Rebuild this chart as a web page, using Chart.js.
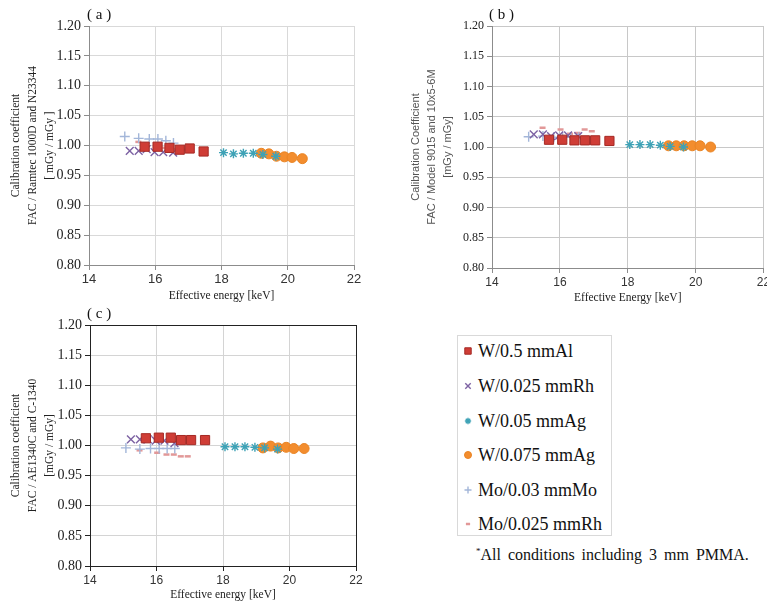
<!DOCTYPE html>
<html>
<head>
<meta charset="utf-8">
<script src="https://cdn.jsdelivr.net/npm/chart.js@4.4.0/dist/chart.umd.min.js"></script>
<style>
  body { margin: 0; background: #fff; }
  #page { position: relative; width: 767px; height: 605px; overflow: hidden; font-family: 'Liberation Serif', serif; }
  canvas { position: absolute; }
  .tag { position: absolute; font-size: 15px; color: #111; }
  #legendBox { position: absolute; left: 457px; top: 335px; width: 155px; height: 201px; border: 1px solid #d9d9d9; box-sizing: border-box; }
  .row { position: absolute; left: 0; height: 22px; line-height: 22px; font-size: 18px; color: #111; white-space: nowrap; }
  .row canvas { position: absolute; left: 3px; top: 4px; }
  .row span { position: absolute; left: 20px; }
  #note { position: absolute; left: 476px; top: 546px; font-size: 16px; word-spacing: 3px; color: #111; white-space: nowrap; }
  #note sup { font-size: 9px; }
</style>
</head>
<body>
<div id="page">
  <canvas id="chartA" width="378" height="305" style="left:0;top:0"></canvas>
  <canvas id="chartB" width="391" height="305" style="left:380px;top:0"></canvas>
  <canvas id="chartC" width="378" height="305" style="left:0;top:300px"></canvas>
  <div class="tag" style="left:87px;top:6px">( a )</div>
  <div class="tag" style="left:489px;top:6px">( b )</div>
  <div class="tag" style="left:87px;top:305px">( c )</div>
  <div id="legendBox"></div>
  <div id="note"><sup>*</sup>All conditions including 3 mm PMMA.</div>
</div>
<script>
// effective energies [keV] for each beam quality
const energyAl    = [15.68, 16.07, 16.43, 16.74, 17.04, 17.46];
const energyRh    = [15.23, 15.50, 15.74, 15.98, 16.24, 16.54];
const energyAg05  = [18.06, 18.36, 18.66, 18.96, 19.25, 19.64];
const energyAg075 = [19.20, 19.43, 19.66, 19.90, 20.13, 20.44];
const energyMo    = [15.08, 15.50, 15.82, 16.08, 16.32, 16.55];
const energyMoRh  = [15.49, 16.02, 16.30, 16.52, 16.73, 16.94];

// (a) FAC / Ramtec 1000D and N23344
const aAl    = [0.998, 0.998, 0.996, 0.993, 0.995, 0.990];
const aRh    = [0.991, 0.991, 0.994, 0.989, 0.989, 0.988];
const aAg05  = [0.988, 0.986, 0.987, 0.987, 0.985, 0.982];
const aAg075 = [0.987, 0.986, 0.982, 0.981, 0.980, 0.978];
const aMo    = [1.015, 1.012, 1.011, 1.011, 1.008, 1.004];
const aMoRh  = [1.006, 0.998, 0.996, 0.994, 0.994, 0.993];

// (b) FAC / Model 9015 and 10x5-6M
const bAl    = [1.012, 1.012, 1.011, 1.011, 1.011, 1.010];
const bRh    = [1.021, 1.021, 1.018, 1.019, 1.019, 1.018];
const bAg05  = [1.004, 1.004, 1.004, 1.003, 1.001, 1.000];
const bAg075 = [1.002, 1.002, 1.002, 1.002, 1.002, 1.000];
const bMo    = [1.017, 1.018, 1.016, 1.017, 1.016, 1.016];
const bMoRh  = [1.032, 1.029, 1.022, 1.023, 1.029, 1.026];

// (c) FAC / AE1340C and C-1340
const cAl    = [1.012, 1.013, 1.013, 1.009, 1.009, 1.009];
const cRh    = [1.010, 1.010, 1.010, 1.008, 1.008, 1.004];
const cAg05  = [0.998, 0.998, 0.998, 0.997, 0.996, 0.994];
const cAg075 = [0.996, 0.999, 0.996, 0.997, 0.995, 0.995];
const cMo    = [0.996, 0.994, 0.995, 0.995, 0.995, 0.995];
const cMoRh  = [0.992, 0.988, 0.985, 0.985, 0.982, 0.982];

const seriesLabels = ['W/0.5 mmAl', 'W/0.025 mmRh', 'W/0.05 mmAg', 'W/0.075 mmAg', 'Mo/0.03 mmMo', 'Mo/0.025 mmRh'];
const seriesEnergy = [energyAl, energyRh, energyAg05, energyAg075, energyMo, energyMoRh];
const xTicks = [14, 16, 18, 20, 22];

const styles = [
  { pointStyle: 'rect',     radius: 6.5, fill: '#cf3d36', line: '#a52a25', width: 1 },
  { pointStyle: 'crossRot', radius: 5.5, fill: '#7d62a3', line: '#7d62a3', width: 1.4 },
  { pointStyle: 'star',     radius: 4.5, fill: '#3ea2b6', line: '#3ea2b6', width: 1.4 },
  { pointStyle: 'circle',   radius: 5,   fill: '#f38d2e', line: '#e98424', width: 1 },
  { pointStyle: 'cross',    radius: 5,   fill: '#a3b6d9', line: '#a3b6d9', width: 1.4 },
  { pointStyle: 'line',     radius: 3,   fill: '#e29898', line: '#e29898', width: 2.5 }
];

function buildSets(values) {
  return values.map((ys, i) => ({
    label: seriesLabels[i],
    data: seriesEnergy[i].map((x, j) => ({ x: x, y: ys[j] })),
    pointStyle: styles[i].pointStyle,
    pointRadius: styles[i].radius,
    pointBackgroundColor: styles[i].fill,
    pointBorderColor: styles[i].line,
    pointBorderWidth: styles[i].width,
    showLine: false
  }));
}

function makeChart(id, values, cfg) {
  const frame = cfg.frame;
  new Chart(document.getElementById(id), {
    type: 'scatter',
    data: { datasets: buildSets(values) },
    options: {
      responsive: false,
      animation: false,
      events: [],
      layout: { padding: { top: cfg.top, right: cfg.right, left: 0, bottom: 0 } },
      plugins: { legend: { display: false }, tooltip: { enabled: false } },
      scales: {
        x: {
          type: 'linear', min: 14, max: 22,
          afterBuildTicks: s => { s.ticks = xTicks.map(v => ({ value: v })); },
          ticks: { font: { family: 'Liberation Sans', size: cfg.xTickSize }, color: '#333', padding: 2 },
          grid: {
            color: c => (frame && c.tick && c.tick.value === 22) ? '#222' : cfg.grid,
            tickLength: 5, tickColor: cfg.axis
          },
          border: { color: cfg.axis },
          title: { display: true, text: cfg.xTitle, color: '#222',
                   font: { family: 'Liberation Serif', size: 11.5 }, padding: { top: 0, bottom: cfg.xTitlePad } },
          afterFit: s => { s.height = cfg.xHeight; s.paddingLeft = 0; s.paddingRight = 0; }
        },
        y: {
          min: 0.8, max: 1.2,
          ticks: { stepSize: 0.05, callback: v => v.toFixed(2), color: '#222', padding: 3,
                   font: { family: 'Liberation Serif', size: cfg.yTickSize } },
          grid: {
            color: c => (frame && c.tick && Math.abs(c.tick.value - 1.2) < 1e-6) ? '#222' : cfg.grid,
            tickLength: 5, tickColor: cfg.axis
          },
          border: { color: cfg.axis },
          title: { display: true, text: cfg.yTitle, color: cfg.yTitleColor,
                   font: { family: cfg.yTitleFont, size: cfg.yTitleSize, lineHeight: cfg.yTitleLH },
                   padding: { top: cfg.yTitlePad, bottom: 0 } },
          afterFit: s => { s.width = cfg.yWidth; s.paddingTop = 0; s.paddingBottom = 0; }
        }
      }
    }
  });
}

makeChart('chartA', [aAl, aRh, aAg05, aAg075, aMo, aMoRh], {
  top: 26, right: 24, yWidth: 89, xHeight: 40, xTitlePad: 2, frame: false,
  grid: '#d9d9d9', axis: '#8c8c8c', xTickSize: 13, yTickSize: 14,
  xTitle: 'Effective energy [keV]',
  yTitle: ['Calibration coefficient', 'FAC / Ramtec 1000D and N23344', '[ mGy / mGy ]'],
  yTitleFont: 'Liberation Serif', yTitleSize: 11.5, yTitleLH: 1.48, yTitlePad: 7.5, yTitleColor: '#222'
});

// panel (b) runs off the right edge of the page, like the original
makeChart('chartB', [bAl, bRh, bAg05, bAg075, bMo, bMoRh], {
  top: 26, right: 1, yWidth: 112, xHeight: 37, xTitlePad: 0, frame: false,
  grid: '#c8c8c8', axis: '#8c8c8c', xTickSize: 12, yTickSize: 12,
  xTitle: 'Effective Energy [keV]',
  yTitle: ['Calibration Coefficient', 'FAC / Model 9015 and 10x5-6M', '[mGy / mGy]'],
  yTitleFont: 'Liberation Sans', yTitleSize: 11, yTitleLH: 1.45, yTitlePad: 27.7, yTitleColor: '#555'
});

makeChart('chartC', [cAl, cRh, cAg05, cAg075, cMo, cMoRh], {
  top: 25, right: 22, yWidth: 90, xHeight: 39, xTitlePad: 3, frame: true,
  grid: '#d4d4d4', axis: '#222', xTickSize: 12, yTickSize: 14,
  xTitle: 'Effective energy [keV]',
  yTitle: ['Calibration coefficient', 'FAC / AE1340C and C-1340', '[mGy / mGy]'],
  yTitleFont: 'Liberation Serif', yTitleSize: 11.5, yTitleLH: 1.48, yTitlePad: 7.5, yTitleColor: '#222'
});

// legend panel
const box = document.getElementById('legendBox');
const rowCenters = [15, 50, 85, 119, 154, 188];
seriesLabels.forEach((label, i) => {
  const row = document.createElement('div');
  row.className = 'row';
  row.style.top = (rowCenters[i] - 11) + 'px';
  const icon = document.createElement('canvas');
  icon.width = 14; icon.height = 14;
  const span = document.createElement('span');
  span.textContent = label;
  row.appendChild(icon); row.appendChild(span);
  box.appendChild(row);
  const ctx = icon.getContext('2d');
  ctx.fillStyle = styles[i].fill;
  ctx.strokeStyle = styles[i].line;
  ctx.lineWidth = styles[i].width;
  Chart.helpers.drawPoint(ctx, {
    pointStyle: styles[i].pointStyle, radius: styles[i].radius * 0.7,
    borderWidth: styles[i].width, rotation: 0
  }, 7, 7);
});
</script>
</body>
</html>
